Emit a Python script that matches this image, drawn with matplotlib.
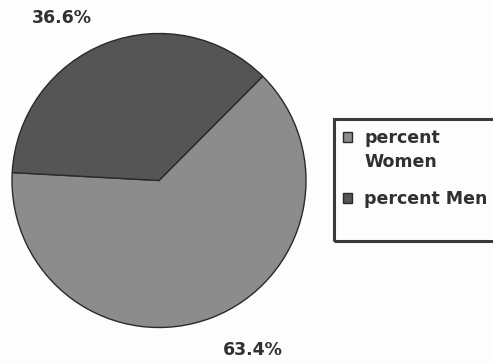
import matplotlib
matplotlib.use("Agg")
import matplotlib.pyplot as plt
from matplotlib.patches import Rectangle
from matplotlib.legend_handler import HandlerPatch

labels = ["percent\nWomen", "percent Men"]
values = [63.4, 36.6]
pct_labels = ["63.4%", "36.6%"]
colors = ["#8c8c8c", "#555555"]

W, H = 493, 363
fig = plt.figure(figsize=(W / 100, H / 100), dpi=100)
fig.patch.set_facecolor("#fdfdfd")

ax = fig.add_axes([12 / W, (H - 328) / H, 294 / W, 295 / H])
wedges, _ = ax.pie(values, colors=colors, startangle=176.9, counterclock=True,
                   wedgeprops=dict(edgecolor="#2a2a2a", linewidth=1.0))
ax.set_xlim(-1, 1)
ax.set_ylim(-1, 1)
ax.set_aspect("equal")
ax.axis("off")

font = dict(family="DejaVu Sans", weight="bold", size=12.5, color="#303030")
fig.text(62 / W, 1 - 18 / H, pct_labels[1], ha="center", va="center", **font)
fig.text(253 / W, 1 - 350 / H, pct_labels[0], ha="center", va="center", **font)

# legend frame
fig.patches.append(Rectangle((334 / W, 1 - 241 / H), 170 / W, 122 / H,
                             transform=fig.transFigure, fill=False,
                             edgecolor="#3a3a3a", linewidth=2.2))


def shifted_square(legend, orig_handle, xdescent, ydescent, width, height, fontsize):
    return Rectangle((-xdescent, -ydescent - 2.3), width, height)


handler = HandlerPatch(patch_func=shifted_square)
leg = fig.legend(wedges, labels, loc="upper left",
                 bbox_to_anchor=(331 / W, 1 - 117 / H),
                 frameon=False, prop=dict(family="DejaVu Sans", weight="bold", size=12.5),
                 handlelength=0.52, handleheight=0.52, handletextpad=0.69,
                 labelspacing=1.06, borderpad=0.2, labelcolor="#303030",
                 handler_map={w: handler for w in wedges})
for t in leg.get_texts():
    t.set_linespacing(1.45)
for col in leg._legend_handle_box.get_children():
    for row in col.get_children():
        row.align = "top"

fig.savefig("out.png", dpi=100, facecolor=fig.get_facecolor())
